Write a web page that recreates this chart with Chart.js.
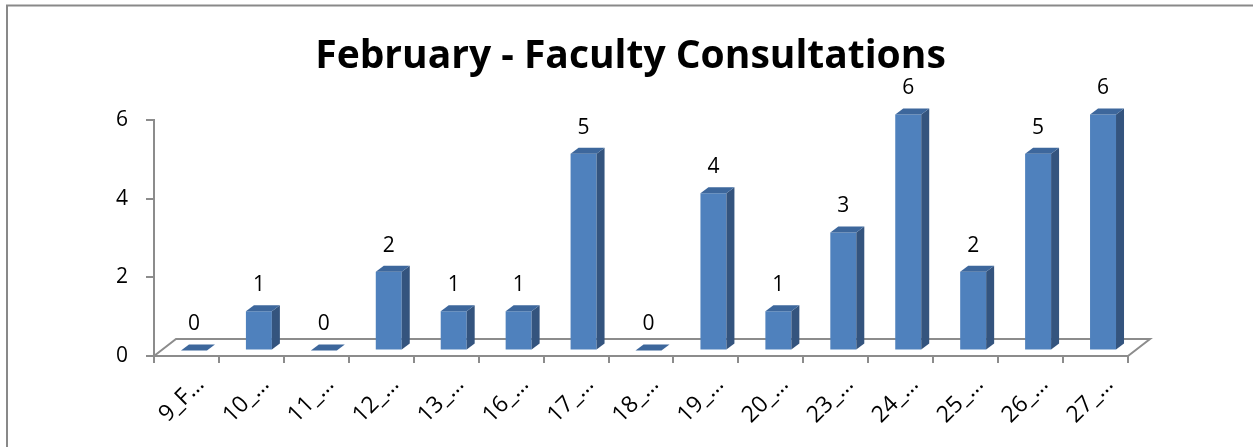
<!DOCTYPE html>
<html>
<head>
<meta charset="utf-8">
<script src="https://cdn.jsdelivr.net/npm/chart.js@4.4.0/dist/chart.umd.min.js"></script>
<style>
html, body { margin: 0; padding: 0; background: #fff; }
</style>
</head>
<body>
<canvas id="myChart" width="1253" height="447"></canvas>
<script>
const titleText = 'February - Faculty Consultations';
const days = ['9_F…', '10_…', '11_…', '12_…', '13_…', '16_…', '17_…', '18_…', '19_…', '20_…', '23_…', '24_…', '25_…', '26_…', '27_…'];
const consultations = [0, 1, 0, 2, 1, 1, 5, 0, 4, 1, 3, 6, 2, 5, 6];
const yTicks = [0, 2, 4, 6];

const frontColor = '#4f81bd';
const sideColor = '#34547e';
const topColor = '#3d679c';
const lineColor = '#8c8c8c';
const fontFamily = '"Open Sans", sans-serif';

// fake 3d: bar depth, bar shift into the floor, floor depth
const depth = {dx: 8, dy: -6};
const shift = {dx: 7.5, dy: -5.5};
const floor = {dx: 22, dy: -17};

const fake3d = {
    id: 'fake3d',
    beforeDraw(chart) {
        const c = chart.ctx;
        c.save();
        c.strokeStyle = '#898989';
        c.lineWidth = 2;
        c.beginPath();
        c.moveTo(7, 447);
        c.lineTo(7, 5.5);
        c.lineTo(1253, 5.5);
        c.stroke();
        c.restore();
    },
    beforeDatasetsDraw(chart) {
        const c = chart.ctx;
        const a = chart.chartArea;
        c.save();
        c.strokeStyle = lineColor;
        c.lineWidth = 2;
        c.beginPath();
        c.moveTo(a.left, a.bottom);
        c.lineTo(a.left + floor.dx, a.bottom + floor.dy);
        c.lineTo(a.right + floor.dx, a.bottom + floor.dy);
        c.lineTo(a.right, a.bottom);
        c.stroke();
        c.restore();
        // bars sit a bit back on the floor
        c.save();
        c.translate(shift.dx, shift.dy);
    },
    afterDatasetsDraw(chart) {
        const c = chart.ctx;
        chart.getDatasetMeta(0).data.forEach((bar, i) => {
            const {x, y, base, width} = bar.getProps(['x', 'y', 'base', 'width'], true);
            const l = x - width / 2;
            const r = x + width / 2;
            if (base - y > 0.5) {
                c.fillStyle = sideColor;
                c.beginPath();
                c.moveTo(r, y);
                c.lineTo(r + depth.dx, y + depth.dy);
                c.lineTo(r + depth.dx, base + depth.dy);
                c.lineTo(r, base);
                c.closePath();
                c.fill();
            }
            c.fillStyle = topColor;
            c.beginPath();
            c.moveTo(l, y);
            c.lineTo(l + depth.dx, y + depth.dy);
            c.lineTo(r + depth.dx, y + depth.dy);
            c.lineTo(r, y);
            c.closePath();
            c.fill();

            c.fillStyle = '#000';
            c.font = '21px ' + fontFamily;
            c.textAlign = 'center';
            c.textBaseline = 'middle';
            c.fillText(String(consultations[i]), x, y - 26);
        });
        c.restore();
    },
    afterDraw(chart) {
        const c = chart.ctx;
        c.save();
        c.fillStyle = '#000';
        c.font = 'bold 39px ' + fontFamily;
        c.textAlign = 'center';
        c.textBaseline = 'alphabetic';
        c.fillText(titleText, 630.5, 68);
        c.restore();
    }
};

const ctx = document.getElementById('myChart').getContext('2d');
let chart = new Chart(ctx, {
    type: 'bar',
    data: {
        labels: days,
        datasets: [{
            data: consultations,
            backgroundColor: frontColor,
            borderWidth: 0,
            barPercentage: 0.4,
            categoryPercentage: 1,
            clip: false,
        }],
    },
    options: {
        responsive: false,
        animation: false,
        devicePixelRatio: 1,
        layout: {padding: {left: 0, right: 125, top: 120, bottom: 0}},
        plugins: {
            legend: {display: false},
            tooltip: {enabled: false},
            title: {display: false},
        },
        scales: {
            x: {
                grid: {display: true, drawOnChartArea: false, offset: true, color: lineColor, lineWidth: 2, tickLength: 7},
                border: {display: true, color: lineColor, width: 2},
                ticks: {
                    color: '#000',
                    font: {family: fontFamily, size: 23},
                    autoSkip: false,
                    minRotation: 45,
                    maxRotation: 45,
                    padding: 8,
                    labelOffset: 14,
                },
                afterFit(scale) { scale.height = 91; },
            },
            y: {
                min: 0,
                max: 6,
                grid: {display: true, drawOnChartArea: false, color: lineColor, lineWidth: 2, tickLength: 8},
                border: {display: true, color: lineColor, width: 2},
                ticks: {
                    color: '#000',
                    font: {family: fontFamily, size: 21},
                    padding: 18,
                },
                afterBuildTicks(scale) { scale.ticks = yTicks.map(v => ({value: v})); },
                afterFit(scale) { scale.width = 154; },
            },
        },
    },
    plugins: [fake3d],
});
</script>
</body>
</html>
